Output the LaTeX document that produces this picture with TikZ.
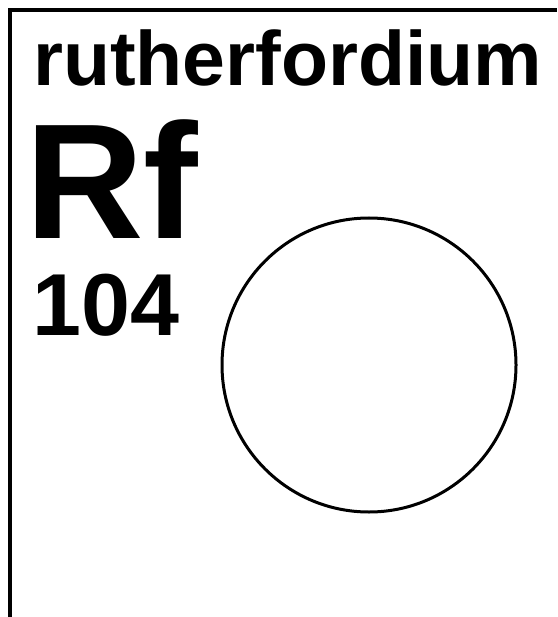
\documentclass[tikz,border=0pt]{standalone}
\usepackage{fontspec}
\setmainfont{Liberation Sans}
\usepackage{tikz}
\usetikzlibrary{positioning}

\tikzset{
  elemtext/.style={anchor=base west, inner sep=0pt, font=\bfseries},
}

\begin{document}
\begin{tikzpicture}[x=1pt, y=-1pt]
  \useasboundingbox (0,0) rectangle (557,617);
  % --- Cadre de la case ---
  \draw[line width=3.5pt] (10,617) -- (10,10) -- (557,10);
  % --- Nom, symbole et numéro atomique ---
  \node[elemtext, font=\bfseries\fontsize{77}{77}\selectfont] (nom) at (33,86) {rutherfordium};
  \node[elemtext, font=\bfseries\fontsize{164}{164}\selectfont] (symbole) at (25,239) {Rf};
  \node[elemtext, font=\bfseries\fontsize{88}{88}\selectfont] (numero) at (32,335) {104};
  % --- Cercle vide ---
  \node[draw, circle, line width=3pt, minimum size=294pt, inner sep=0pt] (atome) at (369,365) {};
\end{tikzpicture}
\end{document}
